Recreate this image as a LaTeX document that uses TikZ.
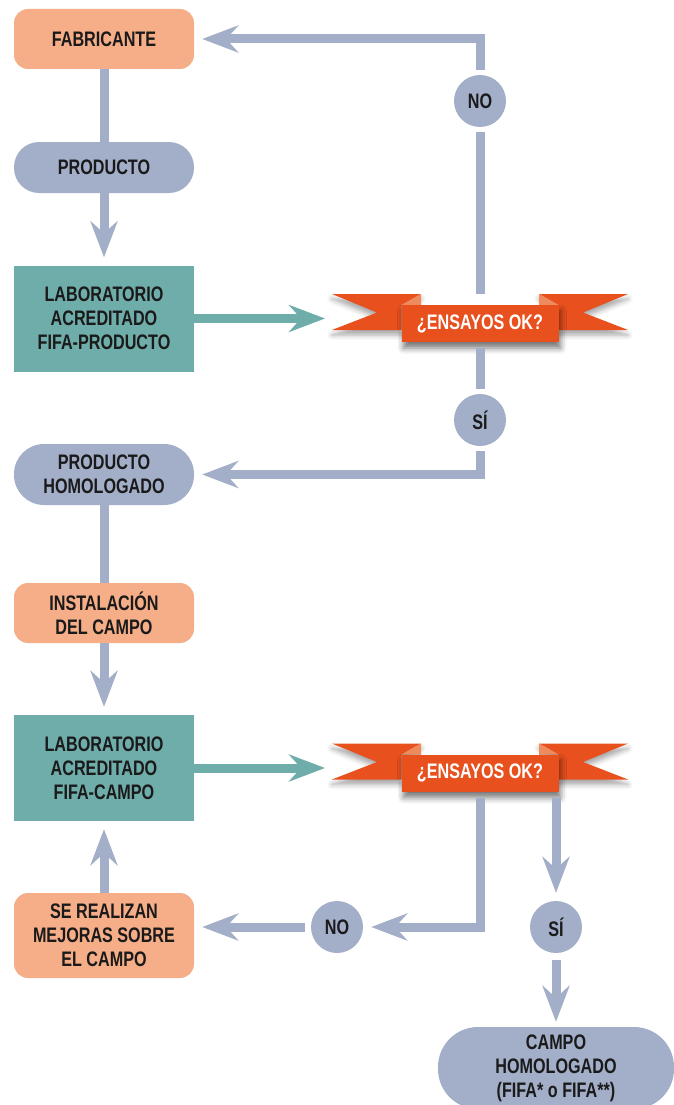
\documentclass[tikz,border=0pt]{standalone}
\usepackage{fontspec}
\setmainfont{Liberation Sans}[FakeStretch=0.77]
\usetikzlibrary{shapes.geometric, arrows.meta, shadows.blur}
\definecolor{salmon}{HTML}{F5AE87}
\definecolor{greyblue}{HTML}{A3AEC8}
\definecolor{labteal}{HTML}{6FADAA}
\definecolor{ribbonred}{HTML}{E8501E}
\definecolor{ribbonfold}{HTML}{EF8A5C}
\definecolor{textblack}{HTML}{1A1A1A}
\tikzstyle{maker} = [rectangle, rounded corners=14pt, minimum width=180pt, minimum height=60pt, align=center, fill=salmon, text=textblack]
\tikzstyle{product} = [rectangle, rounded corners=25pt, minimum width=180pt, minimum height=51pt, align=center, fill=greyblue, text=textblack]
\tikzstyle{lab} = [rectangle, minimum width=180pt, minimum height=106pt, align=center, fill=labteal, text=textblack]
\tikzstyle{answer} = [circle, minimum size=52pt, inner sep=0pt, fill=greyblue, text=textblack]
\tikzstyle{ribbon} = [rectangle, minimum width=157pt, minimum height=37pt, inner sep=0pt, fill=ribbonred, text=white, blur shadow={shadow xshift=2pt, shadow yshift=-6pt, shadow blur radius=6pt, shadow opacity=55}]
\tikzstyle{tail} = [fill=ribbonred, blur shadow={shadow xshift=0pt, shadow yshift=-5pt, shadow blur radius=5pt, shadow opacity=35}]
\tikzstyle{fold} = [fill=ribbonfold]
\tikzstyle{flow} = [draw=greyblue, line width=9pt]
\tikzstyle{flowarrow} = [flow, -{Stealth[length=36pt, width=27pt, inset=12pt]}, shorten >=8pt]
\tikzstyle{labarrow} = [flowarrow, draw=labteal, shorten >=7pt]
% banner: #1 name, #2 placement
\newcommand{\okribbon}[2]{%
  \coordinate [#2] (#1-c);
  \begin{scope}[shift={(#1-c)}]
    \fill [tail] (-148pt,29.5pt) -- (-59pt,29.5pt) -- (-78.5pt,18.5pt) -- (-78.5pt,-6.5pt) -- (-148pt,-6.5pt) -- (-103pt,11pt) -- cycle;
    \fill [tail] (148pt,29.5pt) -- (59pt,29.5pt) -- (78.5pt,18.5pt) -- (78.5pt,-6.5pt) -- (148pt,-6.5pt) -- (103pt,11pt) -- cycle;
    \fill [fold] (-59pt,29.5pt) -- (-59pt,18.5pt) -- (-78.5pt,18.5pt) -- cycle;
    \fill [fold] (59pt,29.5pt) -- (59pt,18.5pt) -- (78.5pt,18.5pt) -- cycle;
    \coordinate (#1-tip) at (-148pt,0pt);
  \end{scope}
  \node [ribbon] (#1) at (#1-c) {¿ENSAYOS OK?};}

\begin{document}
\begin{tikzpicture}[node distance=150pt, font=\fontsize{21}{24}\selectfont\bfseries]

        \useasboundingbox (0pt,0pt) rectangle (673pt,-1105pt);

        % Product approval
        \node (fab) [maker] at (104pt,-39pt) {FABRICANTE};
        \node (prod) [product, below of=fab, yshift=21.5pt] {PRODUCTO};
        \node (lab1) [lab, below of=prod, yshift=-1pt] {LABORATORIO\\ACREDITADO\\FIFA-PRODUCTO};
        \okribbon{ok1}{right of=lab1, xshift=226pt, yshift=-5pt}
        \node (no1) [answer, above of=ok1, yshift=72.5pt] {NO};
        \node (si1) [answer, below of=ok1, yshift=53.5pt] {SÍ};
        \node (prodh) [product, rounded corners=30pt, minimum height=61pt, below of=lab1, yshift=-6pt] {PRODUCTO\\HOMOLOGADO};

        % Field approval
        \node (inst) [maker, below of=prodh, yshift=11.5pt] {INSTALACIÓN\\DEL CAMPO};
        \node (lab2) [lab, below of=inst, yshift=-5pt] {LABORATORIO\\ACREDITADO\\FIFA-CAMPO};
        \okribbon{ok2}{right of=lab2, xshift=226pt, yshift=-5pt}
        \node (mej) [maker, minimum height=85pt, below of=lab2, yshift=-17.5pt] {SE REALIZAN\\MEJORAS SOBRE\\EL CAMPO};
        \node (no2) [answer, right of=mej, xshift=83pt, yshift=8.5pt] {NO};
        \node (si2) [answer, right of=no2, xshift=69pt] {SÍ};
        \node (campo) [product, rounded corners=40pt, minimum width=236pt, minimum height=82pt, below of=si2, yshift=9pt] {CAMPO\\HOMOLOGADO\\(FIFA* o FIFA**)};

        % Connections, product
        \draw [flow] (fab) -- (prod);
        \draw [flowarrow] (prod) -- (lab1);
        \draw [labarrow] (lab1) -- (lab1 -| ok1-tip);
        \draw [flow, shorten >=5pt] ([yshift=11pt]ok1.north) -- (no1);
        \draw [flowarrow, shorten <=5pt] (no1) |- (fab);
        \draw [flow, shorten <=6pt, shorten >=5pt] (ok1) -- (si1);
        \draw [flowarrow, shorten <=5pt] (si1) |- (prodh);

        % Connections, field
        \draw [flow] (prodh) -- (inst);
        \draw [flowarrow] (inst) -- (lab2);
        \draw [labarrow] (lab2) -- (lab2 -| ok2-tip);
        \draw [flowarrow, shorten <=6pt] (ok2) |- (no2);
        \draw [flowarrow, shorten <=6pt] (no2) -- (no2 -| mej.east);
        \draw [flowarrow] (mej) -- (lab2);
        \draw [flowarrow, shorten <=6pt] (ok2.south -| si2) -- (si2);
        \draw [flowarrow, shorten <=7pt, shorten >=5pt] (si2) -- (campo);

\end{tikzpicture}
\end{document}
